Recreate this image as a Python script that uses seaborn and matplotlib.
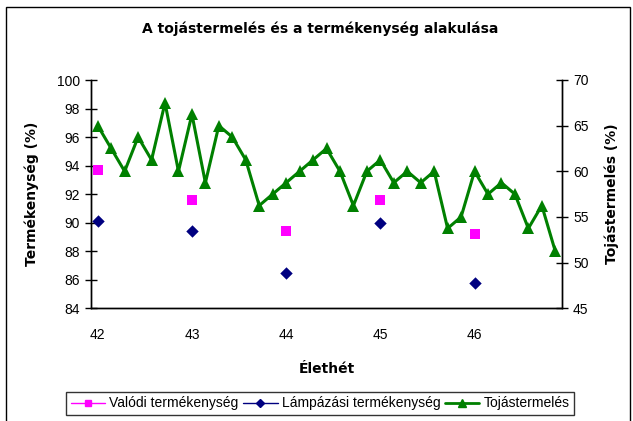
import numpy as np
import pandas as pd
import matplotlib
matplotlib.use('Agg')
import matplotlib.pyplot as plt
from matplotlib.lines import Line2D
from matplotlib.patches import Rectangle
import seaborn as sns

# napi adatok, 42. élethéttől
day = np.arange(35)
elethet = 42 + day / 7
tojastermeles = [65.0, 62.5, 60.0, 63.75, 61.25, 67.5, 60.0, 66.25, 58.75, 65.0,
                 63.75, 61.25, 56.25, 57.5, 58.75, 60.0, 61.25, 62.5, 60.0, 56.25,
                 60.0, 61.25, 58.75, 60.0, 58.75, 60.0, 53.75, 55.0, 60.0, 57.5,
                 58.75, 57.5, 53.75, 56.25, 51.25]

# heti mérések
het = [42, 43, 44, 45, 46]
valodi = [93.7, 91.6, 89.4, 91.6, 89.2]
lampazasi = [90.1, 89.4, 86.5, 90.0, 85.8]

df_daily = pd.DataFrame({'Élethét': elethet, 'Tojástermelés': tojastermeles})
df_weekly = pd.DataFrame({'Élethét': het, 'Valódi': valodi, 'Lámpázási': lampazasi})

sns.set_style('white')
plt.rcParams['font.family'] = ['Liberation Sans', 'DejaVu Sans']
plt.rcParams.update({'text.color': 'black', 'axes.labelcolor': 'black',
                     'xtick.color': 'black', 'ytick.color': 'black'})
bold = dict(family='DejaVu Sans', fontweight='bold')

fig = plt.figure(figsize=(6.33, 4.21), dpi=100)
ax = fig.add_axes([91 / 633, 1 - 308.3 / 421, 471 / 633, 228.3 / 421])
ax2 = ax.twinx()

pink, navy, green = '#FF00FF', '#000080', '#008000'

sns.scatterplot(data=df_weekly, x='Élethét', y='Valódi', ax=ax, marker='s',
                color=pink, s=55, linewidth=0, zorder=3)
sns.scatterplot(data=df_weekly, x='Élethét', y='Lámpázási', ax=ax, marker='D',
                color=navy, s=40, linewidth=0, zorder=3)
sns.lineplot(data=df_daily, x='Élethét', y='Tojástermelés', ax=ax2, color=green,
             linewidth=2.2, marker='^', markersize=8, markeredgewidth=0)

xmin, xmax = 42 - 0.5 / 7, 42 + 34.5 / 7
ax.set_xlim(xmin, xmax)
ax.set_ylim(84, 100)
ax2.set_ylim(45, 70)

bounds = xmin + np.arange(36) / 7
ax.set_xticks(bounds)
ax.set_xticklabels([])
ax.set_xticks(het, [str(h) for h in het], minor=True)
ax.tick_params(axis='x', which='major', direction='inout', length=7, width=1, color='black')
ax.tick_params(axis='x', which='minor', length=0, pad=14, labelsize=10, labelcolor='black')

ax.set_yticks(np.arange(84, 101, 2))
ax2.set_yticks(np.arange(45, 71, 5))
ax.tick_params(axis='y', direction='inout', length=8, width=1, color='black',
               labelsize=10, pad=4, labelcolor='black')
ax2.tick_params(axis='y', direction='inout', length=8, width=1, color='black',
                labelsize=10, pad=4, labelcolor='black')

for a in (ax, ax2):
    a.spines['top'].set_visible(False)
    for s in ('left', 'right', 'bottom'):
        a.spines[s].set_color('black')
        a.spines[s].set_linewidth(1)

ax.set_xlabel('Élethét', fontsize=10, color='black', **bold)
ax.set_ylabel('Termékenység (%)', fontsize=10, color='black', **bold)
ax2.set_ylabel('Tojástermelés (%)', fontsize=10, color='black', **bold)
ax.xaxis.set_label_coords(0.501, -0.235)
ax.yaxis.set_label_coords(-0.11, 0.5)
ax2.yaxis.set_label_coords(1.09, 0.5)

fig.text(320 / 633, 1 - 29 / 421, 'A tojástermelés és a termékenység alakulása',
         ha='center', va='center', fontsize=10, color='black', **bold)

handles = [
    Line2D([], [], color=pink, marker='s', markersize=5, linewidth=1),
    Line2D([], [], color=navy, marker='D', markersize=4.5, linewidth=1),
    Line2D([], [], color=green, marker='^', markersize=6, linewidth=2),
]
leg = fig.legend(handles, ['Valódi termékenység', 'Lámpázási termékenység', 'Tojástermelés'],
                 loc='center', bbox_to_anchor=(320 / 633, 1 - 403.5 / 421), ncol=3,
                 fontsize=10, frameon=True, fancybox=False, borderpad=0.3,
                 handlelength=2.5, handletextpad=0.3, columnspacing=0.3,
                 labelcolor='black')
leg.get_frame().set_edgecolor('black')
leg.get_frame().set_linewidth(1)

fig.patches.append(Rectangle((5.5 / 633, -0.01), (629.5 - 5.5) / 633, 1 - 7.5 / 421 + 0.01,
                             transform=fig.transFigure, fill=False, edgecolor='black',
                             linewidth=1))

fig.savefig('out.png', dpi=100)
